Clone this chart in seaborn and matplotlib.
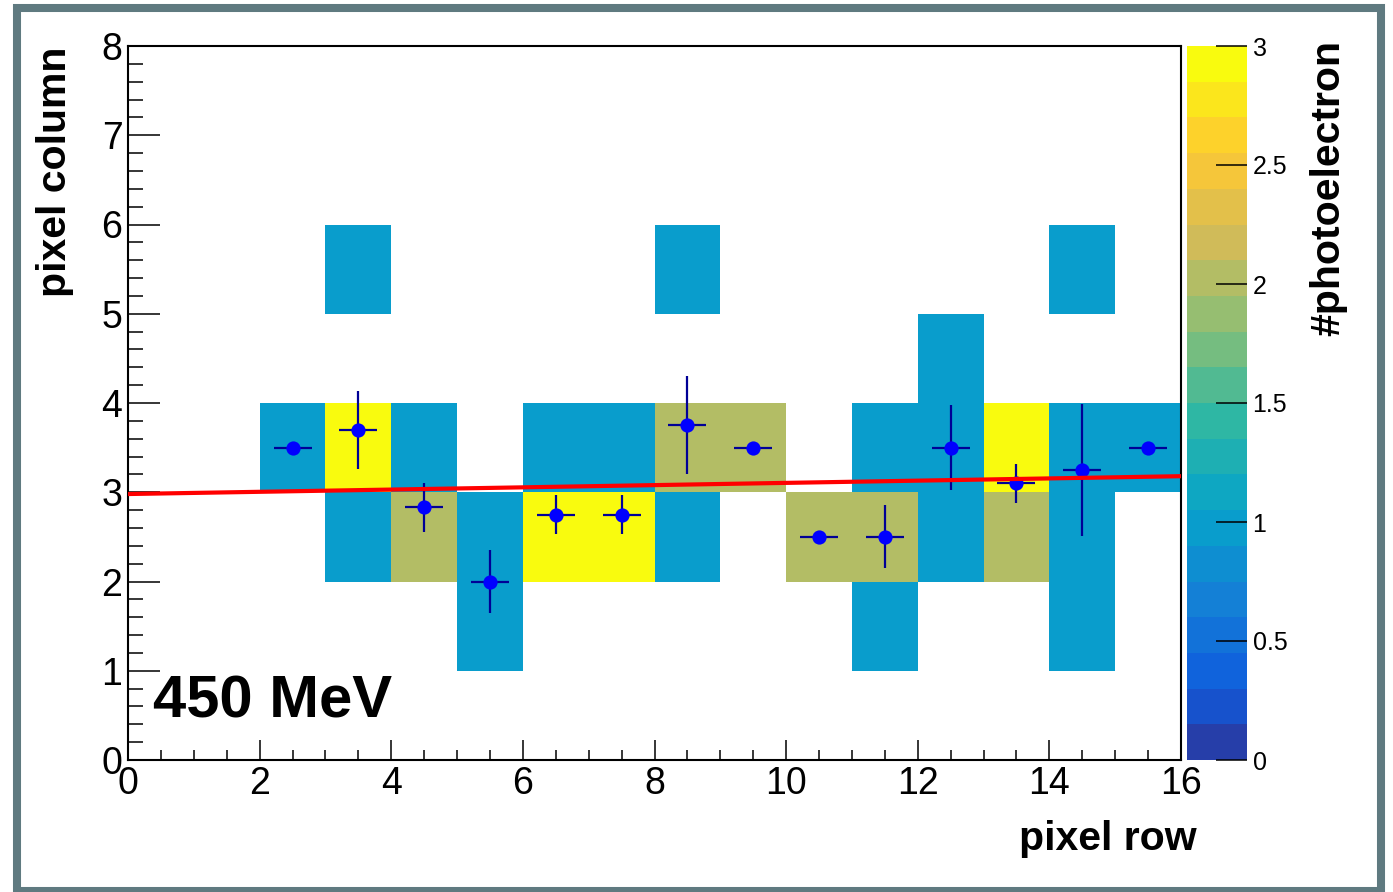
import numpy as np
import pandas as pd
import matplotlib
matplotlib.use("Agg")
import matplotlib.pyplot as plt
import seaborn as sns
from matplotlib.colors import ListedColormap
from matplotlib.patches import Rectangle

# ---------------- data ----------------
cell_x = [2, 3, 3, 3, 4, 4, 5, 5, 6, 6, 7, 7, 8, 8, 8, 9, 10, 11, 11, 11,
          12, 12, 12, 13, 13, 14, 14, 14, 14, 15]
cell_y = [3, 5, 3, 2, 3, 2, 2, 1, 3, 2, 3, 2, 5, 3, 2, 3, 2, 3, 2, 1,
          4, 3, 2, 3, 2, 5, 3, 2, 1, 3]
cell_val = [1, 1, 3, 1, 1, 2, 1, 1, 1, 3, 1, 3, 1, 2, 1, 2, 2, 1, 2, 1,
            1, 1, 1, 3, 2, 1, 1, 1, 1, 1]

pt_x = [2.5, 3.5, 4.5, 5.5, 6.5, 7.5, 8.5, 9.5, 10.5, 11.5, 12.5, 13.5, 14.5, 15.5]
pt_y = [3.5, 3.7, 2.83, 2.0, 2.75, 2.75, 3.75, 3.5, 2.5, 2.5, 3.5, 3.1, 3.25, 3.5]
pt_yerr = [0.0, 0.435, 0.27, 0.353, 0.218, 0.218, 0.55, 0.0, 0.0, 0.353, 0.474, 0.218, 0.74, 0.0]
pt_xerr = [0.2887] * 14

fit_intercept = 2.98
fit_slope = 0.0125
fit_range = [0.0, 16.0]

x_ticks = [0, 2, 4, 6, 8, 10, 12, 14, 16]
y_ticks = [0, 1, 2, 3, 4, 5, 6, 7, 8]
z_ticks = [0, 0.5, 1, 1.5, 2, 2.5, 3]
z_labels = ["0", "0.5", "1", "1.5", "2", "2.5", "3"]

# ---------------- style ----------------
plt.rcParams['font.family'] = ['Liberation Sans', 'DejaVu Sans']
W, H = 1393, 892
fig = plt.figure(figsize=(W / 100, H / 100), dpi=100)

def fx(px):
    return px / W

def fy(py):
    return 1 - py / H

ax = fig.add_axes([fx(128), fy(760), fx(1181 - 128), (760 - 46) / H])
cax = fig.add_axes([fx(1187), fy(760), fx(60), (760 - 46) / H])

# ROOT kBird palette, 20 contour bands
stops = [0.0, 0.125, 0.25, 0.375, 0.5, 0.625, 0.75, 0.875, 1.0]
red = [0.2082, 0.0592, 0.0780, 0.0232, 0.1802, 0.5301, 0.8186, 0.9956, 0.9764]
green = [0.1664, 0.3599, 0.5041, 0.6419, 0.7178, 0.7492, 0.7328, 0.7862, 0.9832]
blue = [0.5293, 0.8684, 0.8385, 0.7914, 0.6425, 0.4662, 0.3499, 0.1968, 0.0539]
nb = 20
fr = [(i + 0.99) / nb for i in range(nb)]
cols = [(np.interp(f, stops, red), np.interp(f, stops, green), np.interp(f, stops, blue)) for f in fr]
cmap = ListedColormap(cols)

# ---------------- heatmap ----------------
df = pd.DataFrame({"x": cell_x, "y": cell_y, "v": cell_val})
grid = df.pivot(index="y", columns="x", values="v").reindex(index=range(8), columns=range(16))

sns.heatmap(grid, cmap=cmap, vmin=0, vmax=3, ax=ax, cbar_ax=cax,
            xticklabels=False, yticklabels=False)
ax.set_xlim(0, 16)
ax.set_ylim(0, 8)
for s in ax.spines.values():
    s.set_visible(True)
    s.set_linewidth(1.5)
    s.set_color('black')

# fit line
fx_line = np.array(fit_range)
fy_line = fit_intercept + fit_slope * fx_line

# points with error bars
ax.errorbar(pt_x, pt_y, xerr=pt_xerr, yerr=pt_yerr, fmt='none',
            ecolor='#000096', elinewidth=1.6, capsize=0, zorder=3)
sns.scatterplot(x=pt_x, y=pt_y, color='#0000ff', s=105, linewidth=0, ax=ax, zorder=4, legend=False)
sns.lineplot(x=fx_line, y=fy_line, color='#ff0000', linewidth=3, ax=ax, zorder=5, legend=False)

# axes ticks
ax.set_xticks(x_ticks)
ax.set_xticklabels([str(t) for t in x_ticks])
ax.set_yticks(y_ticks)
ax.set_yticklabels([str(t) for t in y_ticks])
ax.set_xticks(np.arange(0, 16.01, 0.5), minor=True)
ax.set_yticks(np.arange(0, 8.01, 0.2), minor=True)
ax.tick_params(axis='x', which='major', direction='in', length=14.5, width=1.1,
               labelsize=27, pad=4, top=False, bottom=True, labelrotation=0)
ax.tick_params(axis='x', which='minor', direction='in', length=7.2, width=1.1, top=False)
ax.tick_params(axis='y', which='major', direction='in', length=23, width=1.1,
               labelsize=27, pad=4, right=False, left=True, labelrotation=0)
ax.tick_params(axis='y', which='minor', direction='in', length=11, width=1.1, right=False)
ax.set_xlabel("")
ax.set_ylabel("")

# colorbar
cax.set_ylim(0, 3)
cax.set_yticks(z_ticks)
cax.set_yticklabels(z_labels)
cax.yaxis.set_ticks_position('right')
cax.tick_params(axis='y', direction='in', length=22, width=1.1, labelsize=18, pad=4)
cax.minorticks_off()

# labels
fig.text(fx(55), fy(47), "pixel column", rotation=90, ha='center', va='top',
         fontsize=29.5, fontweight='bold')
fig.text(fx(1197), fy(839), "pixel row", ha='right', va='center',
         fontsize=29.5, fontweight='bold')
fig.text(fx(1328), fy(40), "#photoelectron", rotation=90, ha='center', va='top',
         fontsize=29.5, fontweight='bold')
fig.text(fx(153), fy(718), "450 MeV", ha='left', va='baseline',
         fontsize=43, fontweight='bold')

# outer frame
fig.patches.append(Rectangle((fx(17), fy(891)), fx(1381 - 17), (891 - 8) / H,
                             transform=fig.transFigure, fill=False,
                             edgecolor='#5f7a80', linewidth=5.8))

fig.savefig("out.png", dpi=100)
